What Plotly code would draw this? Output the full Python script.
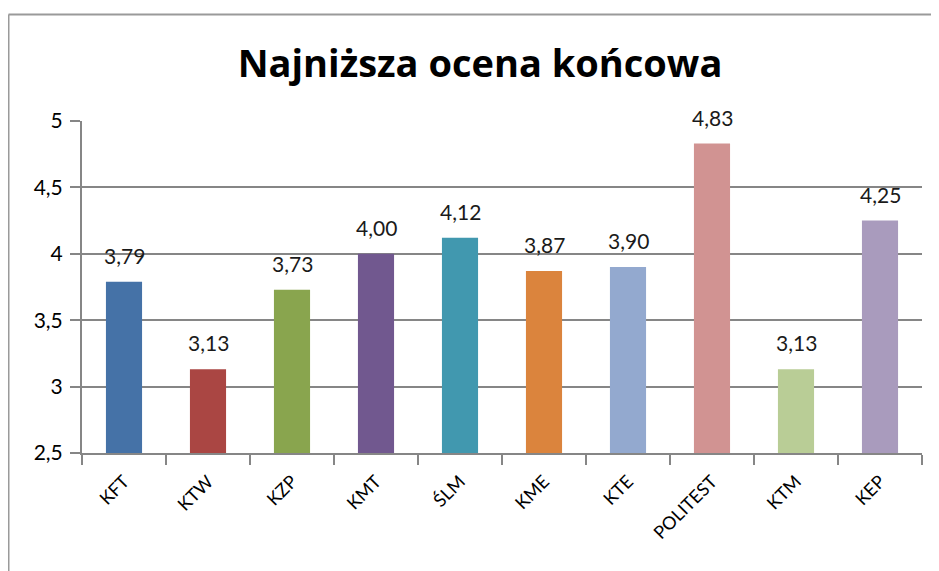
import plotly.graph_objects as go

categories = ["KFT", "KTW", "KZP", "KMT", "ŚLM", "KME", "KTE", "POLITEST", "KTM", "KEP"]
values = [3.79, 3.13, 3.73, 4.00, 4.12, 3.87, 3.90, 4.83, 3.13, 4.25]
colors = ["#4572A7", "#AA4643", "#89A54E", "#71588F", "#4198AF",
          "#DB843D", "#93A9CF", "#D19392", "#B9CD96", "#A99BBD"]
y_ticks = [2.5, 3, 3.5, 4, 4.5, 5]
title = "Najniższa ocena końcowa"

FONT = "Lato, 'Open Sans', sans-serif"
TFONT = "'Open Sans', Lato, sans-serif"

fig = go.Figure()
fig.add_trace(go.Bar(
    x=categories, y=values, marker=dict(color=colors, line=dict(width=0)),
    width=0.43, hoverinfo="x+y",
))

annotations = []
for c, v in zip(categories, values):
    annotations.append(dict(
        x=c, y=v, xref="x", yref="y", text=f"{v:.2f}".replace(".", ","),
        showarrow=False, yanchor="bottom", yshift=12,
        font=dict(family=FONT, size=21, color="#1a1a1a"),
    ))

# page has an 8px body margin: the figure starts at screen (8, 8)
OFF = 8
W, H = 939 - OFF, 571 - OFF
# plot area in screen px
px0, px1, pyt, pyb = 82, 922, 121, 453
pw, ph = px1 - px0, pyb - pyt
def xp(px): return (px - px0) / pw
def yp(py): return (pyb - py) / ph

shapes = [
    dict(type="line", xref="paper", yref="paper", x0=xp(8.5), x1=xp(945), y0=yp(14.5), y1=yp(14.5),
         line=dict(color="#9a9a9a", width=2)),
    dict(type="line", xref="paper", yref="paper", x0=xp(8.5), x1=xp(8.5), y0=yp(14.5), y1=yp(580),
         line=dict(color="#9a9a9a", width=2)),
]

fig.update_layout(
    width=W, height=H,
    margin=dict(l=px0 - OFF, r=939 - px1, t=pyt - OFF, b=571 - pyb, pad=0),
    paper_bgcolor="white", plot_bgcolor="white",
    separators=",.",
    title=dict(text=f"<b>{title}</b>", x=(480 - OFF) / W, xanchor="center",
               y=1 - (64 - OFF) / H, yanchor="middle",
               font=dict(family=TFONT, size=38, color="#000000")),
    showlegend=False,
    annotations=annotations,
    shapes=shapes,
    font=dict(family=FONT, color="#000000"),
)
fig.update_yaxes(
    range=[2.5, 5], tickvals=y_ticks, ticks="outside", ticklen=10, tickcolor="#868686",
    tickwidth=2, ticklabelstandoff=3,
    showgrid=True, gridcolor="#868686", gridwidth=2,
    showline=True, linecolor="#868686", linewidth=2,
    tickfont=dict(family=FONT, size=21, color="#000000"),
    zeroline=False, fixedrange=True,
)
fig.update_xaxes(
    ticks="outside", tickson="boundaries", ticklen=10, tickcolor="#868686", tickwidth=2,
    showline=True, linecolor="#868686", linewidth=2, mirror=False,
    tickangle=-45, ticklabelstandoff=9, tickfont=dict(family=FONT, size=18, color="#000000"),
    showgrid=False, fixedrange=True,
)

fig.write_html("out.html")
